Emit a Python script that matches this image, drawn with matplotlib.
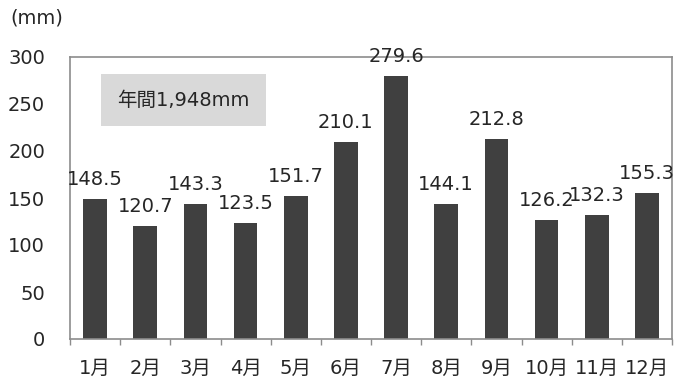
import matplotlib
matplotlib.use("Agg")
import matplotlib.pyplot as plt
import numpy as np

plt.rcParams['font.family'] = ['DejaVu Sans', 'Noto Sans CJK JP']

months = ['1月', '2月', '3月', '4月', '5月', '6月', '7月', '8月', '9月', '10月', '11月', '12月']
rainfall = [148.5, 120.7, 143.3, 123.5, 151.7, 210.1, 279.6, 144.1, 212.8, 126.2, 132.3, 155.3]
total_label = '年間1,948mm'

text_color = '#262626'
bar_color = '#404040'
frame_color = '#8c8c8c'

fig = plt.figure(figsize=(6.92, 3.83), dpi=100)
ax = fig.add_axes([70 / 692, 1 - 339 / 383, 602 / 692, 282 / 383])

x = np.arange(len(months))
ax.bar(x, rainfall, width=0.47, color=bar_color, zorder=2)

for xi, v in zip(x, rainfall):
    ax.annotate(f'{v:.1f}', (xi, v), xytext=(0, 14), textcoords='offset points',
                ha='center', va='center', fontsize=14, color=text_color)

ax.set_xlim(-0.5, len(months) - 0.5)
ax.set_ylim(0, 300)
ax.set_yticks(range(0, 301, 50))
ax.set_xticks(x)
ax.set_xticklabels(months)
ax.set_xticks(np.arange(-0.5, len(months), 1), minor=True)
ax.tick_params(axis='x', which='major', length=0, pad=14, labelsize=14, labelcolor=text_color)
ax.tick_params(axis='x', which='minor', length=4, color=frame_color, width=1)
ax.tick_params(axis='y', length=0, pad=18, labelsize=14, labelcolor=text_color)

for s in ax.spines.values():
    s.set_color(frame_color)
    s.set_linewidth(1.2)

fig.text(10 / 692, 1 - 18 / 383, '(mm)', ha='left', va='center', fontsize=14, color=text_color)

ax.text(0.44, 254, total_label, ha='left', va='center', fontsize=14, color=text_color,
        bbox=dict(boxstyle='square,pad=0.85', facecolor='#d9d9d9', edgecolor='none'))

fig.savefig('out.png', dpi=100)
